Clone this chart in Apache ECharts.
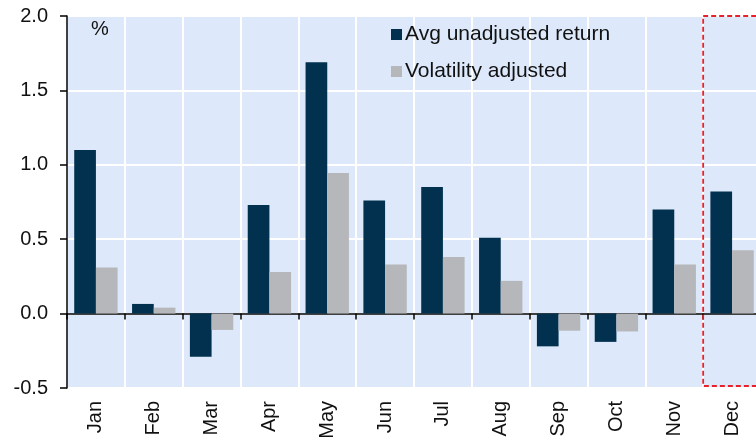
<!DOCTYPE html>
<html>
<head>
<meta charset="utf-8">
<script src="https://cdn.jsdelivr.net/npm/echarts@6/dist/echarts.min.js"></script>
<style>
  html, body { margin: 0; padding: 0; background: #fff; }
  #main { width: 756px; height: 440px; }
</style>
</head>
<body>
<div id="main"></div>
<script>
const months = ['Jan', 'Feb', 'Mar', 'Apr', 'May', 'Jun', 'Jul', 'Aug', 'Sep', 'Oct', 'Nov', 'Dec']
const avgReturn = [1.10, 0.065, -0.29, 0.73, 1.69, 0.76, 0.85, 0.51, -0.22, -0.19, 0.70, 0.82]
const volAdjusted = [0.31, 0.04, -0.11, 0.28, 0.945, 0.33, 0.38, 0.22, -0.115, -0.12, 0.33, 0.425]
const yTicks = [-0.5, 0.0, 0.5, 1.0, 1.5, 2.0]
const highlightMonth = 'Dec'

const font = 'Liberation Sans, Arial, sans-serif'
const myChart = echarts.init(document.getElementById('main'))

const option = {
    animation: false,
    textStyle: { fontFamily: font },
    title: {
        text: '%',
        left: 86,
        top: 14,
        textStyle: { fontSize: 20, fontWeight: 'normal', color: '#111', fontFamily: font }
    },
    legend: {
        orient: 'vertical',
        left: 386,
        top: 19,
        itemWidth: 11,
        itemHeight: 11,
        itemGap: 16,
        icon: 'rect',
        textStyle: { fontSize: 21, color: '#111', fontFamily: font, padding: [0, 0, 0, -2] },
        data: ['Avg unadjusted return', 'Volatility adjusted']
    },
    grid: {
        left: 67,
        top: 16,
        width: 694,
        bottom: 52,
        outerBoundsMode: 'none',
        containLabel: false,
        show: true,
        backgroundColor: '#dde9fb',
        borderWidth: 0
    },
    xAxis: [
        {
            type: 'category',
            data: months,
            position: 'bottom',
            axisLine: { show: false, onZero: false },
            axisTick: { show: false },
            splitLine: { show: true, lineStyle: { color: '#ffffff', width: 2 } },
            axisLabel: { rotate: 90, margin: 13, fontSize: 20, color: '#111', fontFamily: font }
        },
        {
            type: 'category',
            data: months,
            position: 'top',
            axisLine: { show: true, onZero: true, lineStyle: { color: '#000', width: 1.5 } },
            axisTick: { show: true, inside: true, length: 6, lineStyle: { color: '#000', width: 1.5 } },
            axisLabel: { show: false },
            splitLine: { show: false }
        }
    ],
    yAxis: {
        type: 'value',
        min: yTicks[0],
        max: yTicks[yTicks.length - 1],
        interval: 0.5,
        axisLine: { show: true, lineStyle: { color: '#000', width: 1.5 } },
        axisTick: { show: true, length: 7, lineStyle: { color: '#000', width: 1.5 } },
        splitLine: { show: true, lineStyle: { color: '#ffffff', width: 2 } },
        axisLabel: {
            margin: 19,
            fontSize: 20,
            color: '#111',
            fontFamily: font,
            formatter: v => v.toFixed(1)
        }
    },
    series: [
        {
            name: 'Avg unadjusted return',
            type: 'bar',
            xAxisIndex: 0,
            data: avgReturn,
            barGap: '0%',
            barCategoryGap: '25%',
            itemStyle: { color: '#01314f' }
        },
        {
            name: 'Volatility adjusted',
            type: 'bar',
            xAxisIndex: 0,
            data: volAdjusted,
            itemStyle: { color: '#b6b7ba' }
        }
    ]
}
myChart.setOption(option)

// dashed box round the highlighted month, placed through the axes
const idx = months.indexOf(highlightMonth)
const cx = myChart.convertToPixel({ xAxisIndex: 0 }, highlightMonth)
const prevX = myChart.convertToPixel({ xAxisIndex: 0 }, months[idx - 1])
const band = cx - prevX
const yTop = myChart.convertToPixel({ yAxisIndex: 0 }, yTicks[yTicks.length - 1])
const yBot = myChart.convertToPixel({ yAxisIndex: 0 }, yTicks[0])
myChart.setOption({
    graphic: [
        {
            type: 'rect',
            z: 100,
            shape: { x: cx - band / 2, y: yTop, width: band + 20, height: yBot - yTop - 2 },
            style: { fill: 'none', stroke: '#e8202a', lineWidth: 1.8, lineDash: [5, 3] }
        }
    ]
})
</script>
</body>
</html>
